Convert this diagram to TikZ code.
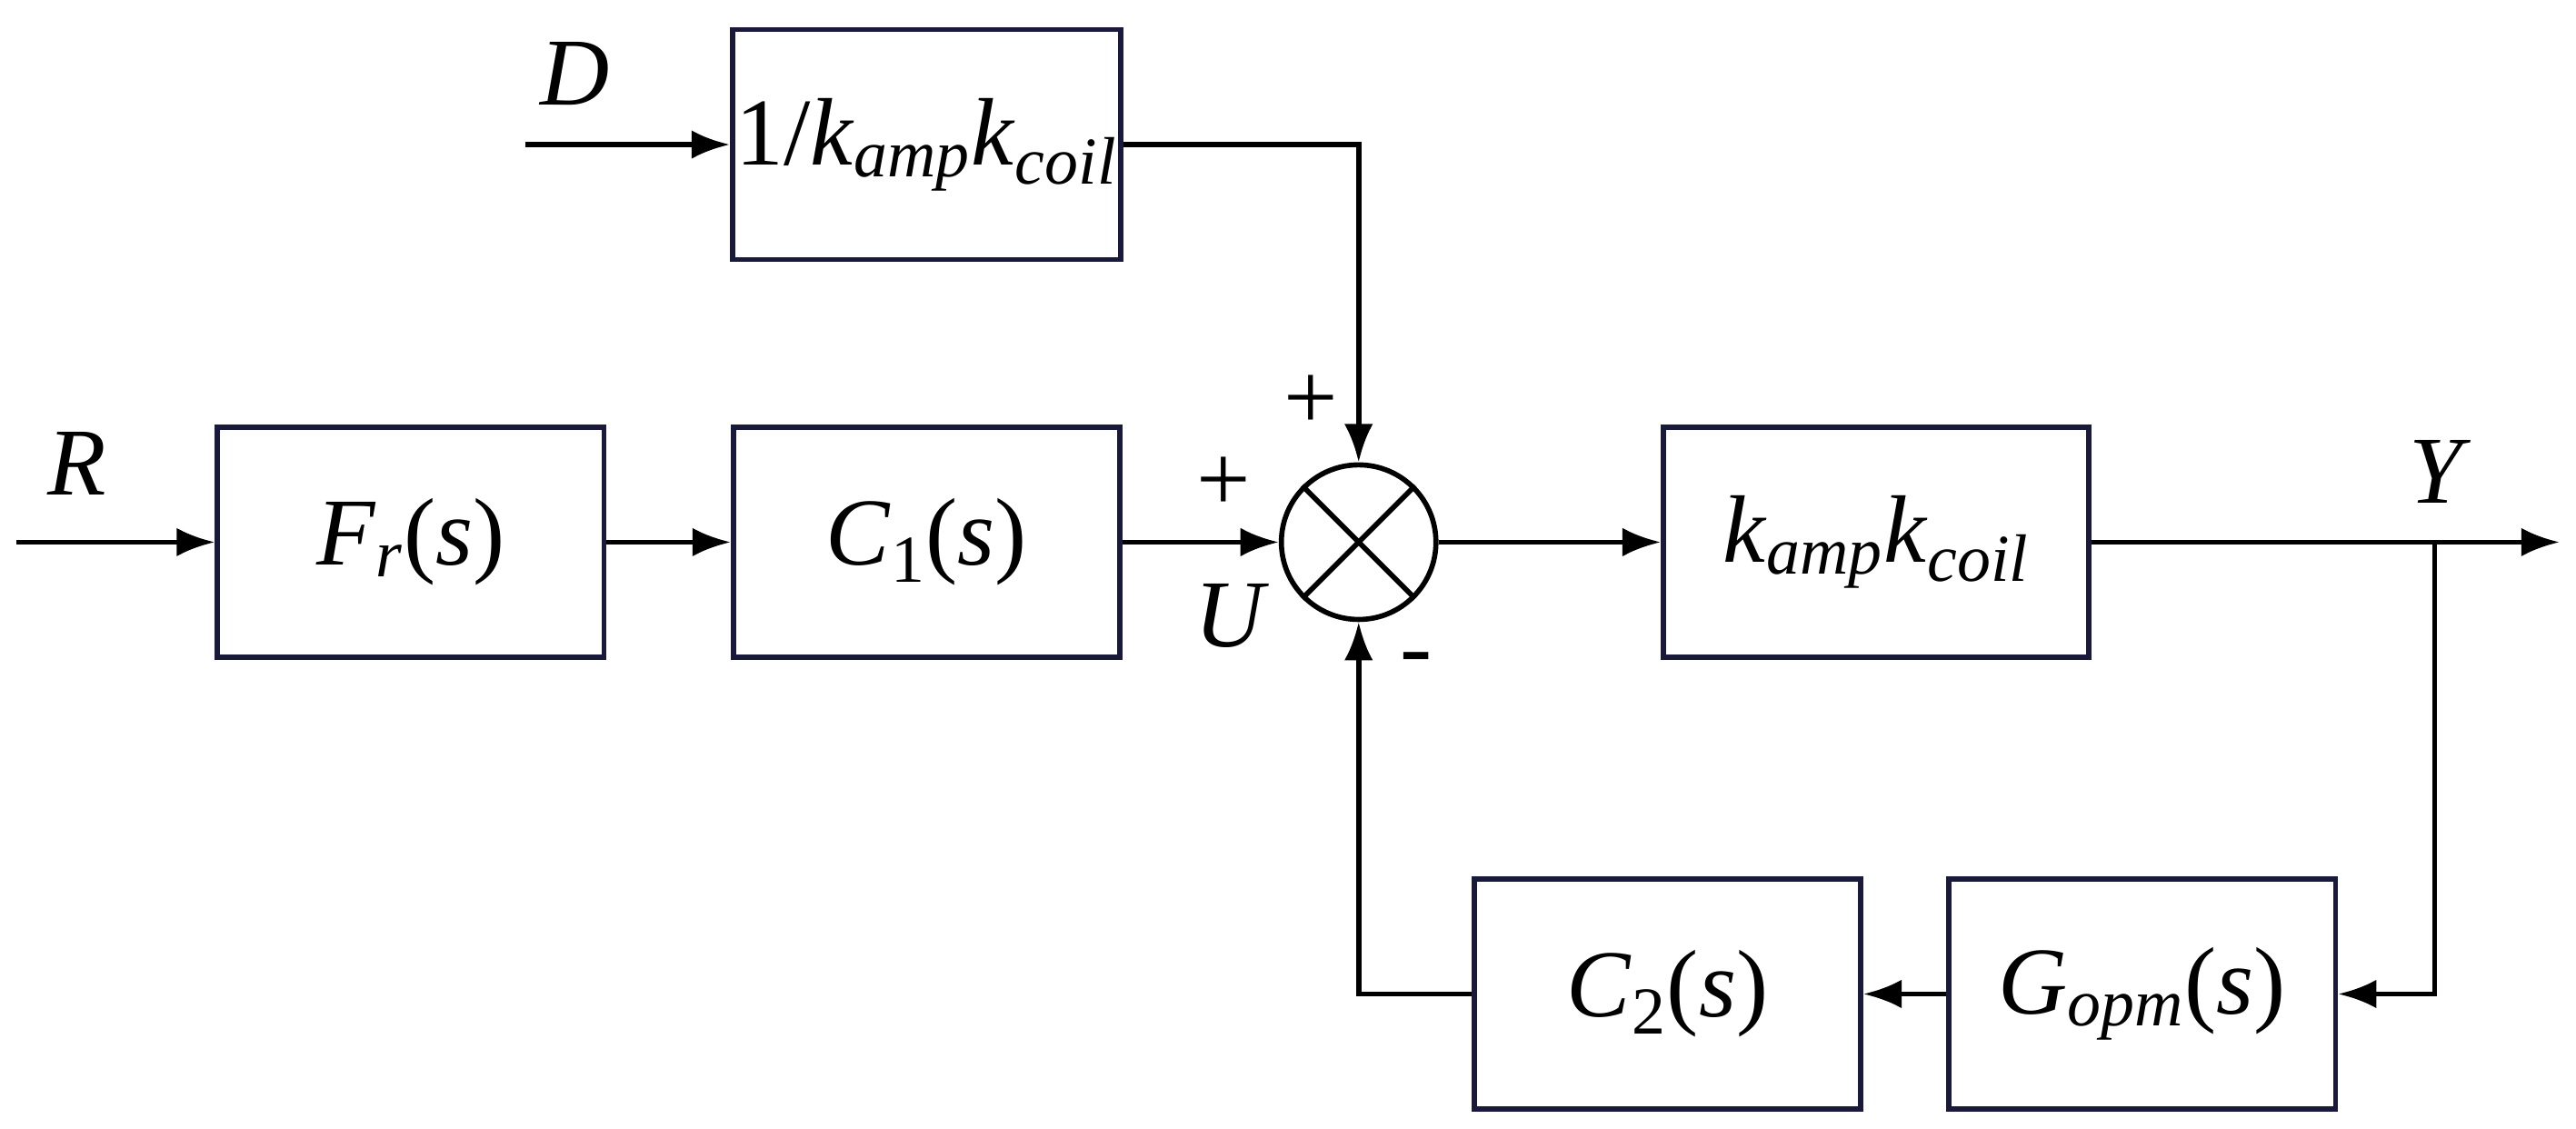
\documentclass[tikz,border=0pt]{standalone}
\usepackage{fontspec}
\setmainfont{Liberation Serif}
\usetikzlibrary{positioning,arrows.meta}
\definecolor{boxline}{RGB}{25,25,60}
\newcommand{\ssub}[1]{\textsubscript{\itshape #1}}
\newcommand{\vr}[1]{\textit{#1}}
\tikzset{
  blk/.style={draw=boxline, line width=1.6pt, minimum height=2.53cm, minimum width=4.25cm, font=\fontsize{30}{36}\selectfont},
  sig/.style={-{Latex[length=12pt,width=9pt]}, line width=1.6pt},
  lbl/.style={font=\fontsize{30}{36}\selectfont}
}
\begin{document}
\begin{tikzpicture}[x=0.018074cm,y=-0.018074cm]
\useasboundingbox (0,0) rectangle (1568,687);
  \node[blk, inner sep=1pt] at (564,88) (dist) {1/\vr{k}\ssub{amp}\vr{k}\ssub{coil}};
  \node[blk] at (250,330) (pre) {\vr{F}\ssub{r}(\vr{s})};
  \node[blk] at (564,330) (cont1) {\vr{C}\textsubscript{1}(\vr{s})};
  \node[blk, minimum width=4.68cm] at (1142,330) (plant) {\vr{k}\ssub{amp}\vr{k}\ssub{coil}};
  \node[blk] at (1304,605) (sens) {\vr{G}\ssub{opm}(\vr{s})};
  \node[blk] at (1015,605) (cont2) {\vr{C}\textsubscript{2}(\vr{s})};
  \node[draw, line width=1.6pt, circle, minimum size=1.7cm, inner sep=0pt] at (827,330) (sum) {};
  \draw[line width=1.6pt] (sum.45) -- (sum.225) (sum.135) -- (sum.315);
  \coordinate (din) at (320,88);
  \coordinate (rin) at (10,330);
  \coordinate (yout) at (1558,330);
  \coordinate (branch) at (1482,330);
  \node[lbl] at (350,45) {\vr{D}};
  \node[lbl] at (47,282) {\vr{R}};
  \node[lbl] at (1485,287) {\vr{Y}};
  \node[lbl] at (750,375) {\vr{U}};
  \node[lbl] at (798,245) {+};
  \node[lbl] at (745,295) {+};
  \node[lbl] at (862,405) {-};
  \draw[sig] (din) -- (dist);
  \draw[sig] (rin) -- (pre);
  \draw[sig] (pre) -- (cont1);
  \draw[sig] (cont1) -- (sum);
  \draw[sig] (dist.east) -| (sum.north);
  \draw[sig] (sum) -- (plant);
  \draw[sig] (plant) -- (yout);
  \draw[sig] (branch) |- (sens.east);
  \draw[sig] (sens) -- (cont2);
  \draw[sig] (cont2.west) -| (sum.south);
\end{tikzpicture}
\end{document}
